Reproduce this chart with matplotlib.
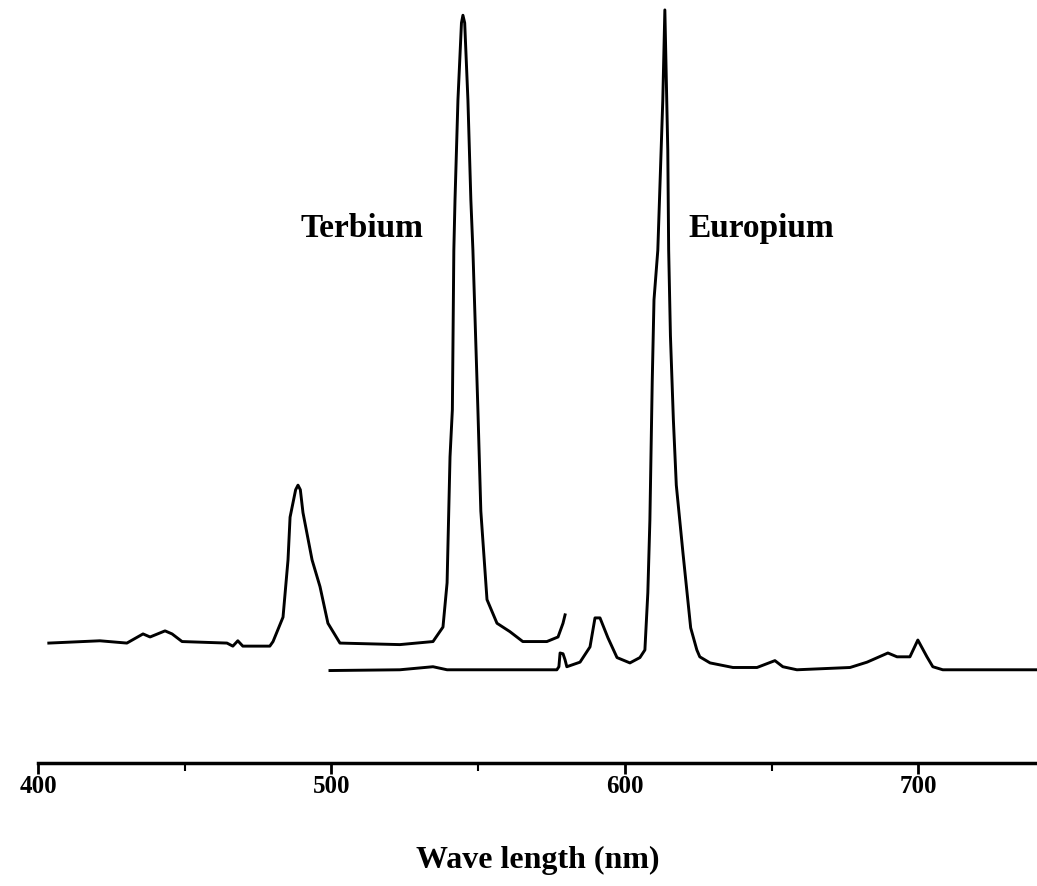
import numpy as np
import matplotlib.pyplot as plt

# Terbium emission (nm, arbitrary intensity)
tb_nm = [403.7, 421.1, 430.3, 435.8, 438.2, 443.3, 445.7, 449.1, 464.4, 466.4, 468.1, 469.8,
         479.0, 480.1, 483.5, 485.2, 485.9, 487.8, 488.6, 489.4, 490.3, 493.4, 496.1, 498.8,
         502.9, 523.3, 534.6, 538.0, 539.4, 540.4, 541.2, 541.7, 542.1, 543.1, 544.3, 544.8,
         545.4, 546.5, 547.5, 548.2, 549.9, 550.9, 553.0, 556.4, 560.8, 565.2, 573.4, 577.2,
         578.9, 579.6]
tb_int = [15.7, 16.0, 15.7, 16.9, 16.5, 17.3, 16.9, 15.9, 15.7, 15.3, 16.0, 15.3,
          15.3, 15.9, 19.1, 26.6, 32.2, 35.8, 36.4, 35.8, 32.8, 26.6, 23.1, 18.3,
          15.7, 15.5, 15.9, 17.8, 23.6, 40.1, 46.3, 67.2, 73.8, 86.9, 97.0, 98.0,
          97.0, 86.9, 73.8, 67.2, 46.3, 33.0, 21.4, 18.3, 17.2, 15.9, 15.9, 16.5,
          18.3, 19.4]

# Europium emission
eu_nm = [499.5, 523.3, 534.6, 539.4, 576.8, 577.5, 577.9, 578.9, 579.6, 580.2, 584.7, 588.1,
         589.8, 591.5, 594.2, 597.3, 601.7, 605.1, 606.8, 607.8, 608.5, 609.3, 609.9, 611.2,
         612.9, 613.6, 614.6, 614.9, 615.5, 616.5, 617.5, 619.8, 622.4, 624.5, 625.5, 629.0,
         636.8, 645.0, 651.1, 653.8, 658.6, 676.7, 682.5, 689.6, 692.7, 697.1, 699.8, 702.9,
         704.9, 708.3, 740.4]
eu_int = [12.1, 12.2, 12.6, 12.2, 12.2, 12.6, 14.4, 14.3, 13.5, 12.6, 13.2, 15.2,
          19.0, 19.0, 16.4, 13.8, 13.1, 13.8, 14.8, 22.3, 31.8, 50.0, 60.7, 67.2,
          86.9, 98.7, 80.3, 67.2, 56.0, 45.0, 36.4, 27.4, 17.7, 14.8, 13.9, 13.1,
          12.5, 12.5, 13.4, 12.6, 12.2, 12.5, 13.2, 14.4, 13.9, 13.9, 16.1, 13.9,
          12.6, 12.2, 12.2]

fig = plt.figure(figsize=(10.37, 8.86), dpi=100)
ax = fig.add_axes([0.0366, 0.139, 0.9634, 0.861])

ax.plot(tb_nm, tb_int, color='black', linewidth=2.1, solid_joinstyle='round')
ax.plot(eu_nm, eu_int, color='black', linewidth=2.1, solid_joinstyle='round')

ax.text(510.4, 70, 'Terbium', fontsize=24, fontweight='bold', family='Liberation Serif',
        ha='center', va='center')
ax.text(646.5, 70, 'Europium', fontsize=24, fontweight='bold', family='Liberation Serif',
        ha='center', va='center')

ax.set_xlim(400, 740.4)
ax.set_ylim(0, 100)
for s in ['top', 'right', 'left']:
    ax.spines[s].set_visible(False)
ax.spines['bottom'].set_linewidth(2.5)
ax.set_yticks([])
ax.set_xticks([400, 500, 600, 700])
ax.set_xticks([450, 550, 650], minor=True)
ax.tick_params(axis='x', which='major', length=8, width=2, pad=1)
ax.tick_params(axis='x', which='minor', length=6, width=1.5)
for lbl in ax.get_xticklabels():
    lbl.set_fontsize(18)
    lbl.set_fontweight('bold')
    lbl.set_family('Liberation Serif')
ax.set_xlabel('Wave length (nm)', fontsize=23, fontweight='bold', family='Liberation Serif',
              labelpad=34)

fig.savefig('out.png', dpi=100)
